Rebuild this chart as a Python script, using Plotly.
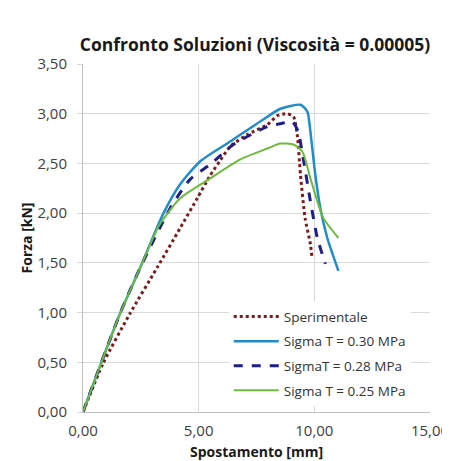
import plotly.graph_objects as go

# Data
exp_x = [0, 0.87, 2.03, 3.2, 4.2, 4.94, 5.5, 5.93, 6.36, 7.1, 7.97, 8.4, 8.83, 9.1, 9.26, 9.4, 9.6, 9.83, 9.9]
exp_y = [0, 0.49, 0.99, 1.45, 1.85, 2.15, 2.38, 2.53, 2.67, 2.79, 2.89, 2.98, 3.0, 2.97, 2.79, 2.39, 1.95, 1.69, 1.55]

s30_x = [0, 1.6, 2.47, 3.46, 4.2, 5.06, 6.36, 7.97, 8.53, 9.4, 9.7, 9.83, 10.04, 10.26, 10.56, 11.04]
s30_y = [0, 0.99, 1.45, 1.99, 2.29, 2.52, 2.72, 2.97, 3.05, 3.09, 3.02, 2.82, 2.39, 2.05, 1.75, 1.42]

s28_x = [0, 1.6, 2.47, 3.77, 4.63, 5.5, 6.5, 7.97, 8.53, 9.05, 9.3, 9.52, 9.83, 10.13, 10.48]
s28_y = [0, 0.99, 1.45, 2.05, 2.34, 2.49, 2.69, 2.87, 2.9, 2.92, 2.82, 2.55, 2.12, 1.75, 1.49]

s25_x = [0, 1.6, 2.47, 3.3, 4.2, 5.5, 6.8, 7.97, 8.53, 9.1, 9.48, 9.83, 10.13, 10.39, 11.04]
s25_y = [0, 0.99, 1.45, 1.88, 2.15, 2.35, 2.54, 2.65, 2.7, 2.69, 2.62, 2.35, 2.12, 1.95, 1.75]

x_ticks = [0, 5, 10, 15]
y_ticks = [0, 0.5, 1, 1.5, 2, 2.5, 3, 3.5]

fig = go.Figure()
fig.add_trace(go.Scatter(x=exp_x, y=exp_y, mode='lines', name='Sperimentale', legendgroup='a',
                         line=dict(color='#7a1c1c', width=3, dash='dot', shape='spline', smoothing=0.6)))
fig.add_trace(go.Scatter(x=s30_x, y=s30_y, mode='lines', name='Sigma T = 0.30 MPa', legendgroup='b',
                         line=dict(color='#1f8ccb', width=2.5, shape='spline', smoothing=0.6)))
fig.add_trace(go.Scatter(x=s28_x, y=s28_y, mode='lines', name='SigmaT = 0.28 MPa', legendgroup='c',
                         line=dict(color='#1f1f8a', width=3, dash='dash', shape='spline', smoothing=0.6)))
fig.add_trace(go.Scatter(x=s25_x, y=s25_y, mode='lines', name='Sigma T = 0.25 MPa', legendgroup='d',
                         line=dict(color='#6cbb3c', width=2, shape='spline', smoothing=0.6)))

# page adds 8px body margin, so the figure is sized to fit inside the window
W, H = 442, 453
fig.update_layout(
    width=W, height=H,
    margin=dict(l=75, r=20, t=56, b=49),
    paper_bgcolor='white', plot_bgcolor='white',
    separators=',.',
    font=dict(family='Open Sans', size=15, color='#404040'),
    title=dict(text='<b>Confronto Soluzioni (Viscosità = 0.00005)</b>', x=247 / W, xanchor='center',
               y=1 - 37 / H, yanchor='middle', font=dict(size=17.5, color='#1a1a1a')),
    legend=dict(x=0.42, y=0.318, xanchor='left', yanchor='top', bgcolor='white', itemwidth=45,
                font=dict(size=13.5, color='#333333'), tracegroupgap=4, traceorder='grouped'),
)
fig.update_xaxes(range=[0, 15], tickvals=x_ticks, tickformat='.2f', showgrid=True, gridcolor='#d9d9d9',
                 showline=True, linecolor='#bfbfbf', zeroline=False, automargin=False,
                 ticklabelstandoff=5, ticklabeloverflow='allow',
                 title=dict(text='<b>Spostamento [mm]</b>', font=dict(size=14, color='#1a1a1a'), standoff=10))
fig.update_yaxes(range=[0, 3.5], tickvals=y_ticks, tickformat='.2f', showgrid=True, gridcolor='#d9d9d9',
                 showline=True, linecolor='#bfbfbf', zeroline=False, ticks='outside', ticklen=5,
                 tickcolor='#d9d9d9', automargin=False, ticklabelstandoff=7,
                 title=dict(text='<b>Forza [kN]</b>', font=dict(size=14, color='#1a1a1a'), standoff=1))

fig.write_html("out.html")
